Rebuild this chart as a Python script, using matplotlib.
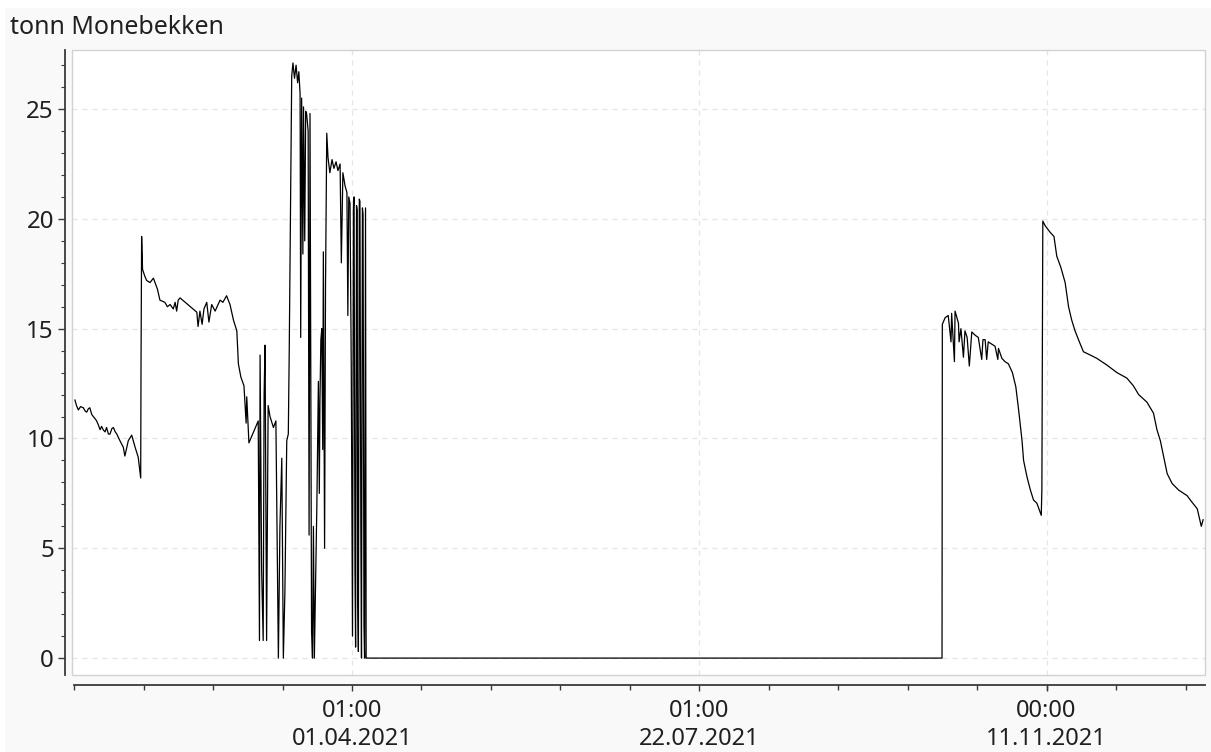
import matplotlib
matplotlib.use('Agg')
import matplotlib.pyplot as plt
import numpy as np
from matplotlib.patches import Rectangle
from matplotlib.ticker import FixedLocator, FixedFormatter, MultipleLocator

# Data: days since 2021-01-01 00:00 and tonnes
days = [0.7, 1.2, 1.8, 2.5, 3.4, 4.0, 4.5, 5.0, 5.5, 6.1, 6.6, 7.2, 7.7, 8.3, 8.8, 9.3,
        9.8, 10.4, 10.9, 11.5, 12.0, 12.6, 13.1, 13.7, 14.2, 14.7, 15.2,
        16.3, 16.8, 17.9, 19.0, 20.1, 21.1, 21.9, 22.0, 22.2, 22.5, 23.2, 23.8, 24.9, 26.0,
        27.3, 28.1, 29.7, 30.5, 31.4, 32.4, 33.0, 33.5, 34.0, 34.6,
        40.0, 40.4, 41.0, 41.7, 42.3, 43.2, 43.9, 44.8, 45.9, 47.5, 48.4, 49.6, 50.7,
        51.8, 52.9, 53.4, 54.2, 55.2, 55.9, 56.1, 56.8,
        59.8, 60.2, 60.4, 60.9, 61.4, 61.7, 62.0, 62.5, 63.0, 63.6, 64.7, 65.5, 65.8,
        66.3, 66.8, 67.4, 67.9, 68.4, 69.0, 69.5, 69.8,
        70.6, 71.0, 71.5, 72.0, 72.5, 72.9, 73.3, 73.5, 73.8, 74.2, 74.4, 74.8, 75.1,
        75.4, 75.9, 76.2, 76.5, 77.0, 77.3, 77.6, 77.9, 78.3, 78.7, 79.2, 79.5, 79.7,
        80.0, 80.3, 80.6, 80.8, 81.2, 81.5, 81.9, 82.3, 82.9, 83.6, 84.2, 84.9, 85.5,
        86.2, 86.6, 87.1, 87.8, 88.4, 88.7, 89.0, 89.4, 89.8,
        90.2, 90.5, 90.7, 91.0, 91.2, 91.5, 91.7, 91.9, 92.1, 92.4, 92.6, 92.9, 93.1,
        93.4, 93.6, 93.9, 94.1, 94.4, 94.6,
        280.3, 280.4, 281.3, 282.3, 283.2, 283.4, 284.3, 284.5, 285.6, 285.8, 286.4,
        287.2, 287.7, 288.4, 289.1, 289.9, 291.0, 292.0, 293.1, 293.5, 294.2, 294.7,
        295.2, 296.3, 297.4, 298.3, 298.5, 299.6, 300.6, 301.7, 303.0, 304.1, 305.0,
        306.1, 306.6, 307.7, 308.8, 309.8, 310.9, 312.3, 312.5, 312.8,
        313.5, 315.1, 316.4, 317.3, 318.6, 320.0, 321.1, 322.1, 323.2, 324.3, 325.9,
        328.1, 330.2, 333.4, 336.7, 339.9, 342.0, 343.7, 346.4, 348.5, 349.6, 350.7,
        351.8, 352.9, 354.5, 356.6, 359.3, 360.9, 362.6, 363.4, 363.9, 364.5]
tonn = [11.75, 11.5, 11.3, 11.45, 11.4, 11.25, 11.2, 11.35, 11.4, 11.1, 11.0, 10.9, 10.8, 10.6, 10.4, 10.55,
        10.4, 10.3, 10.5, 10.2, 10.2, 10.45, 10.5, 10.3, 10.2, 10.05, 9.9,
        9.6, 9.2, 9.9, 10.15, 9.6, 9.15, 8.2, 13.1, 19.2, 17.7, 17.4, 17.2, 17.1, 17.3,
        16.8, 16.3, 16.2, 16.0, 16.1, 15.9, 16.2, 15.8, 16.3, 16.4,
        15.75, 15.1, 15.8, 15.2, 15.9, 16.2, 15.3, 16.1, 15.8, 16.3, 16.2, 16.5, 16.1,
        15.4, 14.9, 13.4, 12.8, 12.4, 10.7, 11.9, 9.8,
        10.8, 0.8, 13.8, 4.0, 0.8, 12.0, 14.25, 0.8, 11.5, 11.0, 10.5, 10.8, 6.6,
        0.0, 6.0, 9.1, 0.0, 3.0, 9.9, 10.2, 14.0,
        26.5, 27.1, 26.4, 27.0, 26.2, 26.7, 25.7, 14.6, 25.5, 18.4, 25.1, 19.0, 24.9,
        24.8, 24.0, 5.6, 24.8, 1.2, 0.0, 6.0, 0.0, 3.5, 6.9, 12.6, 7.5, 11.7,
        14.5, 15.0, 9.5, 18.5, 5.0, 17.0, 23.9, 22.8, 22.1, 22.7, 22.3, 22.6, 22.2,
        22.5, 18.0, 22.1, 21.5, 21.2, 15.6, 21.0, 20.7, 13.3,
        1.0, 20.5, 21.0, 4.0, 0.5, 20.6, 20.4, 2.5, 0.3, 20.9, 20.8, 5.5, 0.0,
        20.5, 20.2, 1.5, 0.0, 20.5, 0.0,
        0.0, 15.2, 15.5, 15.6, 14.4, 15.7, 13.5, 15.8, 15.25, 14.4, 15.0,
        13.7, 14.9, 14.6, 13.3, 14.85, 14.7, 14.6, 13.6, 14.5, 14.5, 13.6,
        14.4, 14.3, 14.2, 13.6, 14.1, 13.65, 13.5, 13.4, 13.0, 12.35, 11.3,
        9.9, 9.0, 8.25, 7.65, 7.2, 7.05, 6.5, 7.7, 19.9,
        19.7, 19.4, 19.2, 18.3, 17.8, 17.1, 16.0, 15.4, 14.9, 14.5, 13.95,
        13.8, 13.65, 13.35, 13.0, 12.75, 12.4, 12.0, 11.65, 11.15, 10.4, 9.9,
        9.15, 8.4, 7.95, 7.65, 7.4, 7.1, 6.8, 6.3, 6.0, 6.3]

x_major_days = [90.04, 202.04, 314.0]
x_major_labels = ['01:00\n01.04.2021', '01:00\n22.07.2021', '00:00\n11.11.2021']
y_major = [0, 5, 10, 15, 20, 25]
title = 'tonn Monebekken'

W, H = 1211, 752
plt.rcParams['font.family'] = ['Noto Sans', 'DejaVu Sans']
txt = '#202020'

fig = plt.figure(figsize=(W / 100, H / 100), dpi=100)
fig.patch.set_facecolor('white')
fig.add_artist(Rectangle((5 / W, 0), 1 - 5 / W, 1 - 8 / H, transform=fig.transFigure,
                         facecolor='#f9f9f9', edgecolor='none', zorder=-10))

ax = fig.add_axes([72 / W, (H - 675) / H, 1133 / W, 625 / H])
ax.set_facecolor('white')
ax.add_patch(Rectangle((0, 0), 1, 1, transform=ax.transAxes, fill=False,
                       edgecolor='#d2d2d2', lw=1.0, clip_on=False, zorder=5))

ax.plot(days, tonn, color='black', lw=0.9, zorder=3)

ax.set_xlim(-0.25, 365.1)
ax.set_ylim(-0.77, 27.69)

ax.xaxis.set_major_locator(FixedLocator(x_major_days))
ax.xaxis.set_major_formatter(FixedFormatter(x_major_labels))
ax.xaxis.set_minor_locator(FixedLocator(list(np.arange(90.04 - 4 * 22.4, 365, 22.4))))
ax.yaxis.set_major_locator(FixedLocator(y_major))
ax.yaxis.set_minor_locator(MultipleLocator(1))

ax.grid(True, which='major', color='#e4e4e4', lw=0.9, linestyle=(0, (4, 4)), zorder=0)

for s in ['top', 'right']:
    ax.spines[s].set_visible(False)
ax.spines['left'].set_position(('outward', 5.0))
ax.spines['left'].set_color('#3a3a3a')
ax.spines['left'].set_linewidth(1.3)
ax.spines['bottom'].set_position(('outward', 7.2))
ax.spines['bottom'].set_color('#3a3a3a')
ax.spines['bottom'].set_linewidth(1.3)
ax.spines['bottom'].set_bounds(0.44, 365.1)

ax.tick_params(axis='y', which='major', length=5, width=1, color='#3a3a3a',
               labelsize=17.4, labelcolor=txt, pad=3)
ax.tick_params(axis='y', which='minor', length=3, width=0.8, color='#3a3a3a')
ax.tick_params(axis='x', which='major', length=4, width=1, color='#3a3a3a',
               labelsize=17, labelcolor=txt, pad=6)
ax.tick_params(axis='x', which='minor', length=3.5, width=1, color='#3a3a3a')
for lab in ax.get_xticklabels():
    lab.set_linespacing(1.25)

fig.text(10 / W, 1 - 28 / H, title, fontsize=18, color=txt, ha='left', va='center')

fig.savefig('out.png', dpi=100, facecolor=fig.get_facecolor())
